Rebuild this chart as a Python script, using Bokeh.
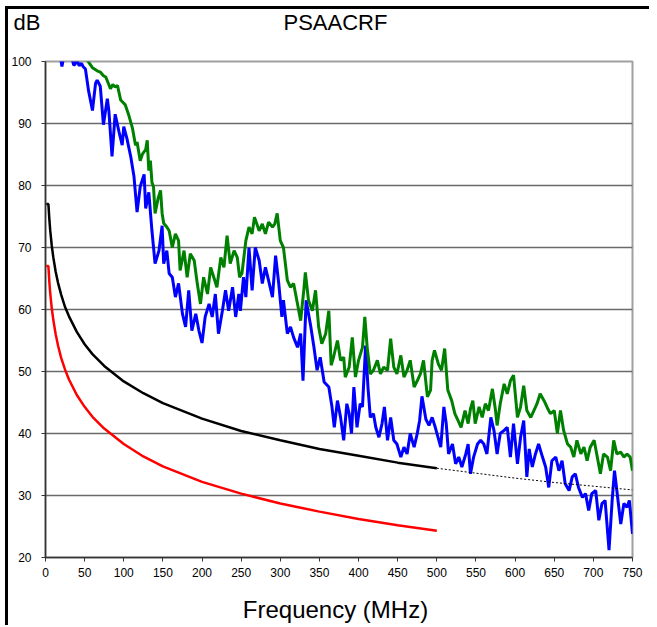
from bokeh.plotting import figure
from bokeh.layouts import column
from bokeh.models import Range1d, FixedTicker
from bokeh.core.properties import value
from bokeh.embed import file_html
from bokeh.resources import INLINE

# ---------------- data ----------------
blue_f = [1, 8, 15, 19, 21, 23, 28, 33, 36, 38, 40, 43, 46, 48, 51, 55, 60, 64, 66, 70,
          74, 79, 81, 85, 89, 94, 98, 100, 104, 109, 113, 117, 121, 126, 128, 132, 136, 140, 145, 149,
          151, 155, 158, 162, 166, 170, 175, 179, 183, 187, 192, 196, 200, 204, 209, 213, 217, 221, 226, 230,
          234, 239, 243, 247, 249, 253, 256, 260, 264, 268, 273, 277, 281, 285, 290, 294, 298, 302, 304, 309,
          313, 317, 322, 326, 329, 333, 339, 343, 347, 351, 356, 362, 366, 369, 373, 377, 381, 385, 388, 391,
          394, 398, 402, 405, 409, 412, 415, 419, 422, 426, 430, 433, 437, 441, 445, 449, 454, 458, 462, 466,
          471, 475, 478, 481, 486, 490, 494, 498, 505, 509, 512, 515, 520, 524, 528, 532, 537, 540, 543, 547,
          552, 556, 560, 564, 569, 573, 577, 581, 586, 590, 594, 598, 603, 607, 611, 615, 618, 622, 626, 630,
          635, 639, 643, 647, 652, 656, 660, 664, 669, 673, 677, 681, 686, 690, 694, 698, 703, 707, 711, 715,
          720, 724, 727, 730, 735, 739, 743, 746, 750]
blue_db = [104, 103, 102, 100.8, 99.2, 100.6, 102, 101, 99.4, 99.6, 100.4, 99.3, 99.7, 99.2, 98.8, 95.3, 92.1, 96.5, 97, 96,
           89.8, 94, 92, 84.7, 91.5, 88.6, 86.5, 89.5, 87.6, 84.6, 81.5, 75.7, 79.8, 81.8, 76.3, 78.9, 72.7, 67.4, 69.5, 73.5,
           67.4, 69.5, 65.8, 65.2, 62, 64.2, 59.3, 57.2, 63.1, 56.6, 59.3, 56.6, 54.6, 58.8, 60.9, 58.8, 62.5, 56.1, 59.8, 63.1,
           59.8, 63.6, 58.8, 62.5, 59.8, 65.2, 62, 70, 63.1, 70, 67.9, 64.2, 66.8, 64.7, 62, 68.7, 64.2, 58.8, 61.5, 56.1,
           57.2, 55.5, 53.9, 56.1, 48.5, 61.5, 57.2, 53.9, 50.2, 52.3, 48.3, 47.5, 44.3, 41, 45.3, 42.6, 38.9, 44.8, 43.2, 40,
           47.5, 41, 44.8, 44.3, 54.2, 47.5, 42.6, 43.2, 41, 39.4, 41.6, 44.3, 38.9, 42.6, 38.9, 38.3, 36.2, 37.8, 36.7, 40,
           37.8, 40, 42.1, 46, 42.3, 41.3, 42.6, 41, 37.8, 44.3, 41.6, 36.7, 38.3, 35.1, 36.2, 34.6, 36.7, 38.3, 33.5, 36.2,
           38.3, 38.9, 38.3, 36.7, 42.6, 40.5, 36.7, 40, 40.5, 41, 36.2, 41.6, 35.1, 39.4, 42.1, 33, 37.5, 34.6, 36.7, 38.3,
           36.2, 34.6, 31.3, 35.6, 36.2, 34, 35.6, 31.9, 30.8, 33, 33.5, 31.3, 29.7, 30.3, 27.6, 30.3, 30.8, 26, 28.7, 29.2,
           21.2, 29.2, 34, 30.8, 25.4, 28.7, 28.1, 29.2, 23.8]

green_f = [1, 20, 40, 50, 55, 60, 66, 70, 74, 77, 83, 86, 89, 92, 96, 102, 106, 111, 115, 117,
           121, 124, 128, 130, 132, 134, 136, 138, 140, 144, 147, 149, 151, 155, 158, 162, 166, 170, 172, 177,
           181, 185, 190, 194, 198, 202, 207, 211, 215, 219, 224, 228, 232, 236, 241, 245, 248, 251, 256, 260,
           264, 267, 273, 277, 281, 285, 290, 293, 296, 300, 304, 309, 313, 317, 322, 326, 330, 332, 336, 341,
           345, 349, 353, 358, 362, 365, 368, 373, 377, 381, 383, 388, 392, 396, 400, 405, 408, 411, 415, 419,
           424, 428, 432, 437, 441, 445, 449, 454, 458, 462, 466, 471, 475, 479, 483, 488, 492, 494, 497, 502,
           506, 510, 514, 519, 523, 527, 531, 536, 540, 543, 546, 549, 554, 558, 562, 566, 571, 575, 577, 581,
           586, 590, 594, 598, 603, 607, 611, 615, 620, 624, 628, 632, 637, 641, 645, 650, 654, 658, 662, 667,
           671, 675, 679, 684, 688, 692, 696, 701, 705, 709, 713, 718, 722, 726, 730, 735, 739, 743, 747, 750]
green_db = [108, 106, 103, 101, 99.9, 99, 98.5, 98.3, 97.7, 97.5, 95.6, 96.3, 95.9, 96.1, 93.8, 93, 91.5, 89.3, 86.5, 87,
            84, 85.1, 85.8, 87.3, 82.4, 84, 80.5, 79.8, 75.5, 78, 79.2, 75.5, 73.9, 73.3, 72.7, 70, 72.2, 71.1, 66.3, 69.5,
            65.2, 69, 67.9, 64.1, 60.9, 65.2, 62.5, 66.8, 65.2, 63.6, 68.4, 66.8, 71.9, 67.4, 69.5, 68.4, 65.2, 65.8, 71.1, 73.3,
            72.2, 74.9, 72.7, 73.8, 72.2, 74.1, 73.3, 73.8, 75.5, 71.1, 70, 64.7, 63.6, 64.2, 60.9, 58.2, 63.1, 66, 61.5, 59.8,
            63.1, 57.2, 54.5, 56.1, 59.8, 51, 52.3, 55, 51.8, 52.3, 49.1, 50.7, 55.5, 49.1, 51.8, 53.9, 58.8, 53.9, 49.6, 50.2,
            51.8, 49.6, 50.7, 50.2, 55.3, 50.7, 49.6, 52.6, 49.1, 50.2, 51.8, 47.5, 48.5, 49.6, 51.8, 45.9, 47, 51.8, 53.4, 51.2,
            50.2, 53.7, 47, 45.3, 43.2, 42.1, 41, 43.7, 41.6, 44, 45.3, 41.6, 44.3, 42.6, 44.8, 43.7, 47.2, 43.7, 41.3, 44.8,
            48, 46.4, 48.5, 49.4, 42.6, 44.3, 47.7, 43.7, 42.6, 43.7, 44.8, 46.4, 45.3, 44.2, 43.2, 43.7, 40, 43.7, 40.5, 38.3,
            37.8, 36.2, 38.9, 36.7, 37.8, 35.6, 37.8, 38.9, 36.2, 33.5, 36.7, 36.2, 34, 38.9, 36.7, 37, 36.2, 36.7, 36.2, 34]

black_f = [1, 3.7, 5, 6, 8, 10, 13, 16, 20, 25, 30, 40, 50, 60, 75, 100, 125, 150, 200, 250, 300, 350, 400, 450, 500]
black_db = [77, 77, 74.4, 72.8, 70.3, 68.4, 66.1, 64.3, 62.4, 60.4, 58.9, 56.4, 54.4, 52.8, 50.9, 48.4, 46.5, 44.9,
            42.4, 40.4, 38.9, 37.5, 36.4, 35.3, 34.4]
dotted_f = [500, 550, 600, 650, 700, 750]
dotted_db = [34.4, 33.6, 32.8, 32.1, 31.5, 30.9]

red_f = [1, 3.7, 5, 6, 8, 10, 13, 16, 20, 25, 30, 40, 50, 60, 75, 100, 125, 150, 200, 250, 300, 350, 400, 450, 500]
red_db = [67, 67, 64.3, 62.7, 60.2, 58.3, 56, 54.2, 52.2, 50.3, 48.7, 46.2, 44.3, 42.7, 40.8, 38.3, 36.3, 34.7,
          32.2, 30.3, 28.7, 27.4, 26.2, 25.2, 24.3]

x_ticks = list(range(0, 751, 50))
y_ticks = list(range(20, 101, 10))

title_text = "PSAACRF"
y_title = "dB"
x_title = "Frequency (MHz)"

FONT = "Liberation Sans"
W = 641
X_MIN, X_MAX = 0, 750
TEXT_X = 370.5   # horizontal centre of the title texts, in MHz units of the aligned frames

# ---------------- header (unit label + title) ----------------
hdr_h = 40
hdr = figure(width=W, height=hdr_h, output_backend="svg", toolbar_location=None,
             x_range=Range1d(X_MIN, X_MAX), y_range=Range1d(0, 1),
             x_axis_type=None, min_border=0)
hdr.outline_line_color = None
hdr.grid.visible = False
hax = hdr.yaxis[0]
hax.ticker = FixedTicker(ticks=[0.675])
hax.major_label_overrides = {0.675: y_title}
hax.axis_line_color = None
hax.major_tick_line_color = None
hax.minor_tick_line_color = None
hax.major_tick_in = 0
hax.major_tick_out = 0
hax.major_label_standoff = 5
hax.major_label_text_font = FONT
hax.major_label_text_font_size = "22px"
hax.major_label_text_color = "black"
hdr.text(x=[TEXT_X], y=[0.675], text=[title_text], text_font=value(FONT), text_font_size="22px",
         text_align="center", text_baseline="middle", text_color="black")

# ---------------- main plot ----------------
p = figure(width=W, height=538, output_backend="svg", toolbar_location=None,
           x_range=Range1d(X_MIN, X_MAX), y_range=Range1d(20, 100),
           min_border_left=37, min_border_right=17, min_border_top=12, min_border_bottom=30)
p.background_fill_color = "white"
p.border_fill_color = "white"
p.outline_line_color = "#a0a0a0"
p.outline_line_width = 2

p.xgrid.visible = False
p.ygrid.ticker = FixedTicker(ticks=y_ticks)
p.ygrid.grid_line_color = "#6a6a6a"
p.ygrid.grid_line_width = 1.5

for ax, ticks in ((p.xaxis[0], x_ticks), (p.yaxis[0], y_ticks)):
    ax.ticker = FixedTicker(ticks=ticks)
    ax.axis_line_color = "#333333"
    ax.axis_line_width = 1.5
    ax.major_tick_line_color = "#333333"
    ax.major_tick_line_width = 1
    ax.major_tick_in = 0
    ax.major_tick_out = 4
    ax.minor_tick_line_color = None
    ax.major_label_text_font = FONT
    ax.major_label_text_font_size = "12px"
    ax.major_label_text_color = "black"
p.yaxis[0].major_label_standoff = 10
p.xaxis[0].major_label_standoff = 6

p.line(blue_f, blue_db, line_color="#0000FF", line_width=3)
p.line(green_f, green_db, line_color="#008000", line_width=3)
p.line(black_f, black_db, line_color="black", line_width=2.5)
p.line(dotted_f, dotted_db, line_color="black", line_width=1, line_dash="2 2")
p.line(red_f, red_db, line_color="#FF0000", line_width=2.5)

# ---------------- footer (x axis title) ----------------
ftr_h = 38
ftr = figure(width=W, height=ftr_h, output_backend="svg", toolbar_location=None,
             x_range=Range1d(X_MIN, X_MAX), y_range=Range1d(ftr_h, 0),
             x_axis_type=None, y_axis_type=None, min_border=0)
ftr.outline_line_color = None
ftr.grid.visible = False
ftr.text(x=[TEXT_X], y=[22], text=[x_title], text_font=value(FONT), text_font_size="24px",
         text_align="center", text_baseline="middle", text_color="black")

layout = column(hdr, p, ftr, spacing=0)
layout.styles = {"margin-left": "5px", "margin-top": "6px",
                 "border-left": "3px solid black", "border-top": "3px solid black"}

open("out.html", "w").write(file_html(layout, INLINE))
